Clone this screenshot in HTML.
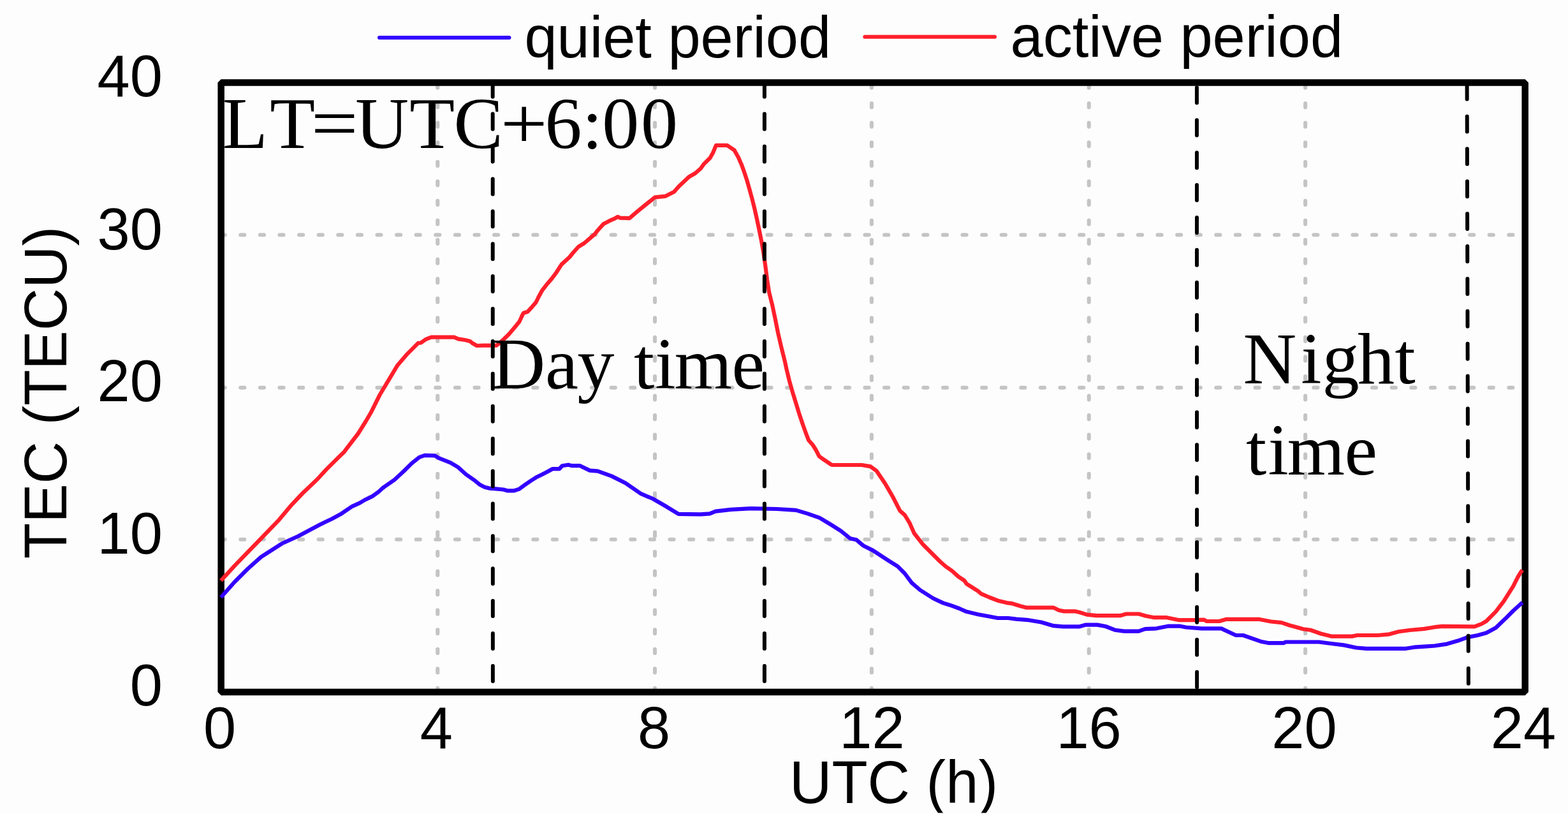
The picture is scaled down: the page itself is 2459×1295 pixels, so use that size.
<!DOCTYPE html>
<html><head><meta charset="utf-8"><title>TEC quiet vs active period</title><style>
html,body{margin:0;padding:0;background:#fff;width:2459px;height:1295px;overflow:hidden}
svg{display:block}
.s{font-family:"Liberation Sans", Arial, sans-serif}
.r{font-family:"Liberation Serif", "Times New Roman", serif}
</style></head><body>

<svg width="2459" height="1295" viewBox="0 0 2459 1295">
<rect x="0" y="0" width="2459" height="1295" fill="#ffffff"/>
<defs><clipPath id="crop"><rect x="0" y="0" width="2459" height="1274.6"/></clipPath></defs>
<rect x="0" y="0" width="2459" height="1274.6" fill="#fdfdfd"/>
<g clip-path="url(#crop)">
<g stroke="#c4c4c4" stroke-width="6.1" stroke-linecap="round" stroke-dasharray="6.1 24.5" fill="none"><line x1="346.70" y1="368.3" x2="2391.7" y2="368.3"/><line x1="346.70" y1="607.7" x2="2391.7" y2="607.7"/><line x1="346.70" y1="845.7" x2="2391.7" y2="845.7"/></g>
<g stroke="#c4c4c4" stroke-width="6.1" stroke-linecap="round" stroke-dasharray="6.1 24.46" fill="none"><line x1="686.3" y1="1085.0" x2="686.3" y2="129.5"/><line x1="1027.0" y1="1085.0" x2="1027.0" y2="129.5"/><line x1="1366.9" y1="1085.0" x2="1366.9" y2="129.5"/><line x1="1707.7" y1="1085.0" x2="1707.7" y2="129.5"/><line x1="2047.1" y1="1085.0" x2="2047.1" y2="129.5"/></g>
<rect x="346.7" y="129.5" width="2045.0" height="955.5" fill="none" stroke="#000" stroke-width="10.5" stroke-linejoin="bevel"/>
<polyline fill="none" stroke="#3300ff" stroke-width="6.2" stroke-linejoin="round" stroke-linecap="butt" points="346.5,936.5 367.8,912.5 388.6,891.7 409.5,873.1 441.9,852.3 467.4,840.7 502.2,822.2 520.0,813.7 533.9,806.3 540.8,801.7 552.4,793.8 564.0,788.7 573.3,783.2 584.8,777.6 594.1,770.7 600.0,765.3 602.7,763.2 618.6,752.2 633.2,738.8 645.4,726.6 657.6,716.8 666.1,713.8 682.0,714.4 688.1,718.1 706.4,725.4 718.6,732.7 730.8,743.7 743.0,752.2 752.8,760.1 760.1,763.8 767.4,765.6 774.7,766.2 789.4,767.5 795.5,769.3 806.4,769.3 813.8,766.9 822.3,760.8 832.1,754.0 840.6,748.6 850.4,743.7 860.0,738.8 866.3,735.2 877.2,735.2 881.8,730.2 891.1,728.7 897.2,730.2 909.6,730.2 925.0,737.6 937.4,738.7 959.0,746.4 980.7,757.2 1005.4,774.2 1023.9,782.0 1042.5,792.8 1064.1,805.9 1098.5,806.3 1113.0,805.4 1122.2,801.7 1146.3,798.9 1177.8,797.1 1218.6,798.0 1248.3,799.9 1266.8,805.4 1285.4,811.9 1303.9,823.0 1318.7,832.3 1333.5,844.3 1342.8,846.2 1353.9,855.5 1368.8,862.9 1392.9,878.6 1407.7,887.9 1418.8,899.0 1429.9,913.8 1442.9,925.0 1463.3,938.0 1479.0,945.4 1489.8,948.7 1504.4,954.0 1514.2,958.4 1533.7,963.3 1551.6,966.5 1564.6,969.0 1580.9,969.0 1593.9,970.6 1613.4,972.2 1632.9,975.5 1652.4,981.2 1667.1,982.3 1693.1,982.3 1702.9,979.6 1720.8,979.6 1733.8,982.0 1748.4,987.7 1763.0,989.6 1785.8,989.6 1795.6,986.1 1813.5,985.3 1831.4,981.7 1850.9,981.7 1860.0,983.5 1884.4,985.4 1915.3,985.4 1938.1,996.0 1949.5,996.0 1977.1,1005.7 1990.1,1008.2 2012.9,1008.2 2016.2,1006.5 2068.2,1006.5 2087.7,1009.0 2107.3,1011.4 2126.8,1015.5 2143.0,1016.8 2204.9,1016.8 2217.9,1014.7 2237.4,1013.4 2250.0,1012.5 2269.2,1009.6 2286.5,1004.6 2301.3,999.1 2317.4,996.0 2330.9,992.3 2345.8,984.3 2360.6,970.1 2372.9,957.7 2384.5,947.3 2387.5,944.6"/>
<polyline fill="none" stroke="#ff1f2b" stroke-width="6.2" stroke-linejoin="round" stroke-linecap="butt" points="346.5,910.4 367.8,887.1 407.2,846.5 437.3,815.3 455.8,793.2 474.4,773.5 497.5,751.5 511.4,736.4 530.0,717.9 540.0,708.2 543.9,702.9 561.5,680.0 574.0,660.0 581.7,646.8 595.6,619.0 609.5,595.8 623.4,572.7 637.3,556.4 655.8,537.9 660.0,537.5 668.1,531.8 676.3,528.6 712.1,528.6 718.6,531.4 729.1,533.0 737.3,535.1 741.3,538.3 747.8,542.0 757.6,541.6 778.7,541.6 782.0,539.1 790.1,531.8 798.3,523.7 808.0,512.3 814.5,504.2 819.4,493.6 821.0,490.7 827.5,488.7 834.9,480.6 840.5,474.0 845.2,464.4 850.4,455.1 858.5,444.7 865.5,436.6 872.4,427.3 880.6,414.6 893.3,403.0 897.9,397.2 907.2,386.8 916.5,381.0 923.4,375.2 932.7,367.1 937.3,361.3 946.6,350.9 955.9,346.2 964.0,342.7 968.6,339.8 972.1,341.6 987.2,342.2 1000.0,331.2 1013.1,320.5 1027.0,309.3 1043.2,307.7 1057.1,300.8 1064.1,292.7 1080.2,277.5 1090.5,271.5 1099.0,264.0 1103.2,257.9 1113.6,247.5 1118.2,239.4 1122.9,227.8 1140.2,227.8 1151.5,235.4 1157.7,246.2 1163.1,258.6 1167.0,269.4 1171.6,283.3 1175.5,297.2 1179.3,311.0 1183.2,326.5 1187.0,343.5 1190.9,362.0 1194.0,377.4 1197.1,394.4 1200.1,415.4 1203.1,438.6 1206.2,458.6 1210.9,477.2 1215.5,498.8 1220.1,521.9 1225.5,545.1 1230.9,566.7 1233.3,578.0 1237.9,597.1 1243.1,615.4 1248.4,632.5 1253.6,649.6 1258.9,665.3 1264.1,679.7 1268.1,690.2 1274.6,697.5 1279.9,706.0 1284.5,715.2 1291.7,720.4 1303.5,728.3 1305.1,729.0 1351.4,729.0 1365.3,731.4 1374.6,738.3 1388.0,758.0 1400.2,779.0 1411.4,800.8 1418.8,807.3 1426.2,819.3 1433.6,836.0 1446.6,852.7 1459.6,865.7 1474.4,880.5 1483.0,888.0 1493.0,895.0 1502.8,903.9 1512.5,910.4 1515.8,915.3 1533.7,926.7 1538.6,930.8 1551.6,936.5 1566.2,942.1 1580.9,945.4 1587.4,946.2 1600.4,950.3 1610.1,952.7 1652.4,952.7 1660.6,956.8 1668.7,958.4 1686.6,958.4 1693.1,960.0 1704.5,963.6 1719.1,965.2 1756.5,965.2 1766.3,962.5 1785.8,962.5 1797.2,965.7 1810.2,968.2 1829.7,968.2 1849.3,972.2 1873.7,972.2 1887.7,971.6 1892.5,974.0 1912.1,974.0 1923.4,970.8 1973.9,970.8 1993.4,974.5 2009.7,976.1 2022.7,980.5 2043.8,986.2 2055.2,987.8 2071.5,993.5 2087.7,997.6 2120.3,997.6 2128.4,996.0 2160.9,996.0 2178.8,994.3 2193.5,990.3 2210.5,988.0 2233.7,985.9 2249.8,983.2 2261.8,981.8 2312.4,982.4 2323.5,978.1 2331.0,973.8 2345.8,958.9 2358.1,942.9 2372.9,919.4 2380.4,904.6 2384.5,897.8 2387.3,893.6"/>
<g stroke="#000" stroke-width="6" stroke-linecap="round" stroke-dasharray="24 26.9" fill="none"><line x1="772.70" y1="127.70" x2="772.90" y2="1085.0"/><line x1="1198.90" y1="127.70" x2="1198.90" y2="1085.0"/><line x1="1876.90" y1="137.35" x2="1877.10" y2="1085.0"/><line x1="2300.60" y1="131.50" x2="2302.90" y2="1085.0"/></g>
<text class="r" transform="translate(0 231.90) scale(1 0.984)" x="349.0 423.2" y="0" font-size="116" fill="#000">LT</text>
<text class="r" transform="translate(494.4 231.9) scale(1.13 0.984)" x="-5.80" y="0" font-size="116" fill="#000">=</text>
<text class="r" transform="translate(0 231.90) scale(1 0.984)" x="557.3 642.2 711.6" y="0" font-size="116" fill="#000">UTC</text>
<text class="r" transform="translate(791.2 231.9) scale(1.13 0.984)" x="-5.80" y="0" font-size="116" fill="#000">+</text>
<text class="r" transform="translate(0 231.90) scale(1 0.984)" x="854.5 912.7 944.2 1005.0" y="0" font-size="116" fill="#000">6:00</text>
<text class="r" transform="translate(0 608.50) scale(1 0.984)" x="771.6 855.0 905.4 963.4 994.1 1027.0 1057.8 1147.4" y="0" font-size="116" fill="#000">Day time</text>
<text class="r" transform="translate(0 600.50) scale(1 0.984)" x="1949.6 2040.3 2073.4 2129.1 2187.4" y="0" font-size="116" fill="#000">Night</text>
<text class="r" transform="translate(0 744.30) scale(1 0.984)" x="1953.9 1988.4 2018.7 2108.5" y="0" font-size="116" fill="#000">time</text>
<line x1="595" y1="58.9" x2="798.5" y2="58.9" stroke="#3300ff" stroke-width="6" stroke-linecap="round"/>
<line x1="1356.3" y1="57.7" x2="1560" y2="57.7" stroke="#ff1f2b" stroke-width="6" stroke-linecap="round"/>
<text class="s" x="822.4" y="89.6" font-size="92" fill="#000">quiet period</text>
<text class="s" x="1584.5" y="89.4" font-size="92" fill="#000">active period</text>
<text class="s" text-anchor="end" font-size="92" transform="translate(254.9 150.7) scale(1 1.010)" x="0" y="0" fill="#000">40</text>
<text class="s" text-anchor="end" font-size="92" transform="translate(254.9 390.7) scale(1 1.010)" x="0" y="0" fill="#000">30</text>
<text class="s" text-anchor="end" font-size="92" transform="translate(254.9 628.6) scale(1 1.010)" x="0" y="0" fill="#000">20</text>
<text class="s" text-anchor="end" font-size="92" transform="translate(254.9 867.6) scale(1 1.010)" x="0" y="0" fill="#000">10</text>
<text class="s" text-anchor="end" font-size="92" transform="translate(254.9 1106.0) scale(1 1.010)" x="0" y="0" fill="#000">0</text>
<text class="s" text-anchor="middle" font-size="92" transform="translate(344.5 1173.0) scale(1 1.010)" x="0" y="0" fill="#000">0</text>
<text class="s" text-anchor="middle" font-size="92" transform="translate(684.4 1173.0) scale(1 1.010)" x="0" y="0" fill="#000">4</text>
<text class="s" text-anchor="middle" font-size="92" transform="translate(1025.5 1173.0) scale(1 1.010)" x="0" y="0" fill="#000">8</text>
<text class="s" text-anchor="middle" font-size="92" transform="translate(1367.4 1173.0) scale(1 1.010)" x="0" y="0" fill="#000">12</text>
<text class="s" text-anchor="middle" font-size="92" transform="translate(1707.6 1173.0) scale(1 1.010)" x="0" y="0" fill="#000">16</text>
<text class="s" text-anchor="middle" font-size="92" transform="translate(2045.5 1173.0) scale(1 1.010)" x="0" y="0" fill="#000">20</text>
<text class="s" text-anchor="middle" font-size="92" transform="translate(2389.0 1173.0) scale(1 1.010)" x="0" y="0" fill="#000">24</text>
<text class="s" font-size="92" transform="translate(1238.0 1259.1) scale(1 1.035)" x="0" y="0" fill="#000">UTC (h)</text>
<text class="s" font-size="92" transform="translate(104.2 876.0) rotate(-90) scale(1 1.035)" x="0" y="0" fill="#000">TEC (TECU)</text>
</g>
</svg>
</body></html>
